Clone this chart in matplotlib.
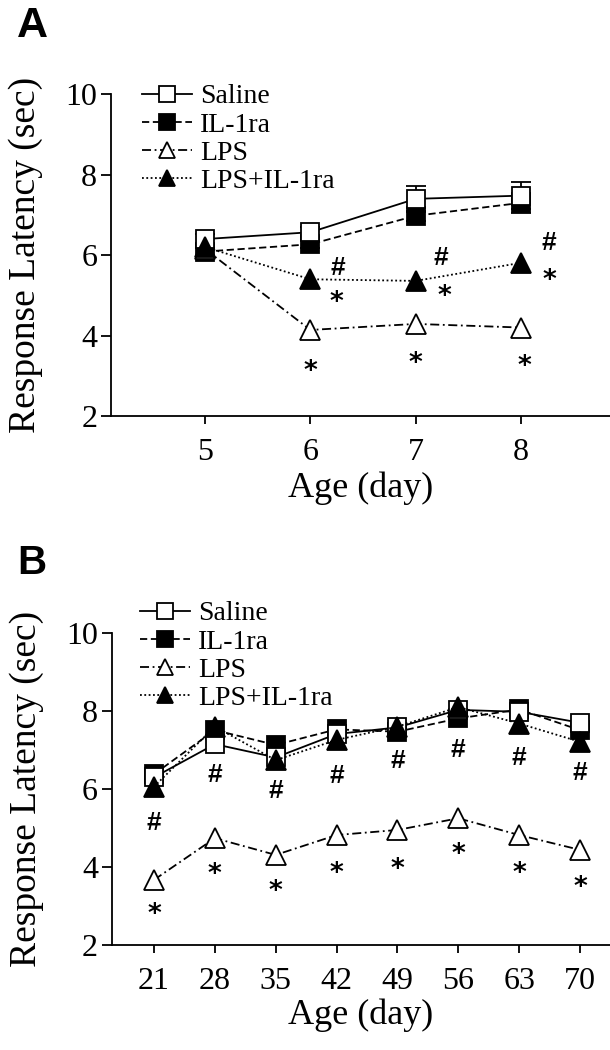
import matplotlib
matplotlib.use("Agg")
import matplotlib.pyplot as plt

# Panel A - neonatal days
days_a = [5, 6, 7, 8]
saline_a = [6.40, 6.57, 7.40, 7.48]
saline_a_err = [0.12, 0.12, 0.32, 0.34]
il1ra_a = [6.09, 6.27, 6.98, 7.30]
il1ra_a_err = [0.10, 0.10, 0.12, 0.24]
lps_a = [6.15, 4.14, 4.29, 4.20]
lps_il1ra_a = [6.20, 5.40, 5.36, 5.81]

# significance marks, panel A (glyph centres)
hash_a_x = [6.26, 7.24, 8.26]
hash_a_y = [5.75, 6.00, 6.38]
star_a_x = [6.25, 6.00, 7.27, 7.00, 8.27, 8.03]
star_a_y = [5.01, 3.31, 5.17, 3.49, 5.56, 3.43]

# Panel B - adult days
days_b = [21, 28, 35, 42, 49, 56, 63, 70]
saline_b = [6.30, 7.15, 6.81, 7.41, 7.58, 8.03, 7.98, 7.70]
il1ra_b = [6.38, 7.51, 7.13, 7.53, 7.47, 7.81, 8.04, 7.51]
lps_b = [3.67, 4.74, 4.31, 4.82, 4.95, 5.25, 4.82, 4.44]
lps_il1ra_b = [6.06, 7.60, 6.74, 7.26, 7.60, 8.10, 7.68, 7.21]

hash_b_y = [5.21, 6.44, 6.02, 6.40, 6.79, 7.08, 6.87, 6.49]
star_b_y = [2.98, 4.01, 3.58, 4.03, 4.14, 4.52, 4.03, 3.67]

labels = ["Saline", "IL-1ra", "LPS", "LPS+IL-1ra"]

SERIF = "Liberation Serif"
SANS = "Liberation Sans"

plt.rcParams["font.family"] = SERIF

fig = plt.figure(figsize=(6.1, 10.5), dpi=100)

styles = {
    "Saline": dict(ls="-", marker="s", mfc="white", ms=13),
    "IL-1ra": dict(ls=(0, (4, 2)), marker="s", mfc="black", ms=13),
    "LPS": dict(ls=(0, (5, 2, 1, 2)), marker="^", mfc="white", ms=14),
    "LPS+IL-1ra": dict(ls=(0, (1, 1.4)), marker="^", mfc="black", ms=14),
}


def draw_series(ax, x, y, name, z, err=None):
    st = styles[name]
    if err is not None:
        ax.errorbar(x, y, yerr=err, fmt="none", ecolor="black", elinewidth=1.3,
                    capsize=7, capthick=1.3, zorder=z - 0.5)
    line, = ax.plot(x, y, color="black", lw=1.3, linestyle=st["ls"], marker=st["marker"],
                    ms=st["ms"], mfc=st["mfc"], mec="black", mew=1.3, zorder=z,
                    label=name)
    return line


def style_axes(ax, xticks, xlim):
    ax.set_ylim(2, 10)
    ax.set_xlim(*xlim)
    ax.set_yticks([2, 4, 6, 8, 10])
    ax.set_xticks(xticks)
    for s in ["top", "right"]:
        ax.spines[s].set_visible(False)
    for s in ["left", "bottom"]:
        ax.spines[s].set_linewidth(1.3)
    ax.tick_params(axis="y", direction="out", length=7, width=1.3, pad=3, labelsize=23)
    ax.tick_params(axis="x", direction="out", length=6, width=1.3, pad=10, labelsize=23)
    ax.set_ylabel("Response Latency (sec)", fontsize=27)
    ax.yaxis.set_label_coords(-0.172, 0.5)
    ax.yaxis.label.set_va("center")
    ax.set_xlabel("Age (day)", fontsize=26)
    ax.xaxis.set_label_coords(0.5, -0.224)
    ax.xaxis.label.set_va("center")


def mark(ax, x, y, s):
    # put glyph centre near (x, y)
    if s == "*":
        ax.annotate(s, (x, y), xytext=(0, -11), textcoords="offset points",
                    ha="center", va="baseline", fontsize=19, fontweight="bold",
                    family="DejaVu Sans")
    else:
        ax.annotate(s, (x, y), xytext=(0, -7), textcoords="offset points",
                    ha="center", va="baseline", fontsize=19, fontweight="bold",
                    family=SANS)


def add_legend(ax, handles, anchor):
    ax.legend(handles, labels, loc="upper left", bbox_to_anchor=anchor,
              bbox_transform=fig.transFigure, frameon=False, fontsize=20,
              borderpad=0, borderaxespad=0, labelspacing=0.1,
              handlelength=1.8, handletextpad=0.3, markerscale=0.85)


# ---- Panel A ----
ax1 = fig.add_axes([0.182, 0.6038, 0.818, 0.3064])
h_il = draw_series(ax1, days_a, il1ra_a, "IL-1ra", 3, il1ra_a_err)
h_sa = draw_series(ax1, days_a, saline_a, "Saline", 4, saline_a_err)
h_lp = draw_series(ax1, days_a, lps_a, "LPS", 5)
h_li = draw_series(ax1, days_a, lps_il1ra_a, "LPS+IL-1ra", 6)
style_axes(ax1, days_a, (4.107, 8.845))
for x, y in zip(hash_a_x, hash_a_y):
    mark(ax1, x, y, "#")
for x, y in zip(star_a_x, star_a_y):
    mark(ax1, x, y, "*")
add_legend(ax1, [h_sa, h_il, h_lp, h_li], (0.232, 0.92))

# ---- Panel B ----
ax2 = fig.add_axes([0.1836, 0.100, 0.8164, 0.2971])
h_il = draw_series(ax2, days_b, il1ra_b, "IL-1ra", 3)
h_sa = draw_series(ax2, days_b, saline_b, "Saline", 4)
h_lp = draw_series(ax2, days_b, lps_b, "LPS", 5)
h_li = draw_series(ax2, days_b, lps_il1ra_b, "LPS+IL-1ra", 6)
style_axes(ax2, days_b, (16.17, 73.45))
for x, y in zip(days_b, hash_b_y):
    mark(ax2, x, y, "#")
for x, y in zip(days_b, star_b_y):
    mark(ax2, x, y, "*")
add_legend(ax2, [h_sa, h_il, h_lp, h_li], (0.2295, 0.4276))

fig.text(0.027, 0.9945, "A", fontsize=31, fontweight="bold", family=SANS, va="top")
fig.text(0.029, 0.4815, "B", fontsize=29, fontweight="bold", family=SANS, va="top")

fig.savefig("out.png", dpi=100)
